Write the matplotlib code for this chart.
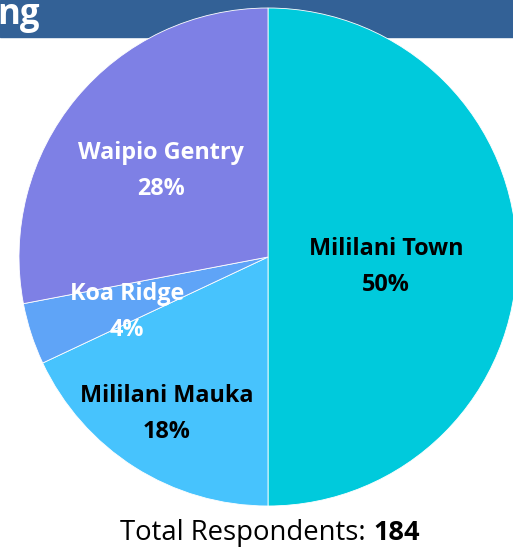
import matplotlib.pyplot as plt
from matplotlib.patches import Rectangle

# 数据
neighborhoods = ['Mililani Town', 'Mililani Mauka', 'Koa Ridge', 'Waipio Gentry']
shares = [50, 18, 4, 28]
colors = ['#00CADC', '#47C3FD', '#5FA4F7', '#7E80E5']
label_colors = ['black', 'black', 'white', 'white']
total = 184

W, H = 513, 550
fig = plt.figure(figsize=(W / 100, H / 100), dpi=100)
ax = fig.add_axes([0, 0, 1, 1])

# 顶部标题条（被裁剪）
ax.add_patch(Rectangle((0, H - 37), W, 37, color='#336196', zorder=0))
ax.text(-3, H - 15, 'ng', color='white', fontsize=25, fontweight='bold',
        family='Open Sans', va='center', ha='left', zorder=1)

# 饼图
cx, cy, r = 268, H - 257, 249
wedges, _ = ax.pie(shares, colors=colors, startangle=90, counterclock=False,
                   center=(cx, cy), radius=r, frame=True,
                   wedgeprops=dict(edgecolor='white', linewidth=0.6))
for w in wedges:
    w.set_zorder(2)
ax.set_xlim(0, W)
ax.set_ylim(0, H)
ax.axis('off')

# 标签位置
label_pos = [(386, 267), (167, 414), (127, 312), (161, 171)]
for name, s, c, (x, y) in zip(neighborhoods, shares, label_colors, label_pos):
    ax.text(x, H - y, f'{name}\n{s}%', color=c, fontsize=16.8, fontweight='bold',
            family='Open Sans', ha='center', va='center', linespacing=1.65,
            zorder=3)

# 总人数
ax.text(366, H - 533, 'Total Respondents:', fontsize=19.8, family='Open Sans',
        ha='right', va='center')
ax.text(373, H - 533, str(total), fontsize=19.5, family='Open Sans',
        fontweight='bold', ha='left', va='center')

plt.savefig('out.png', dpi=100)
